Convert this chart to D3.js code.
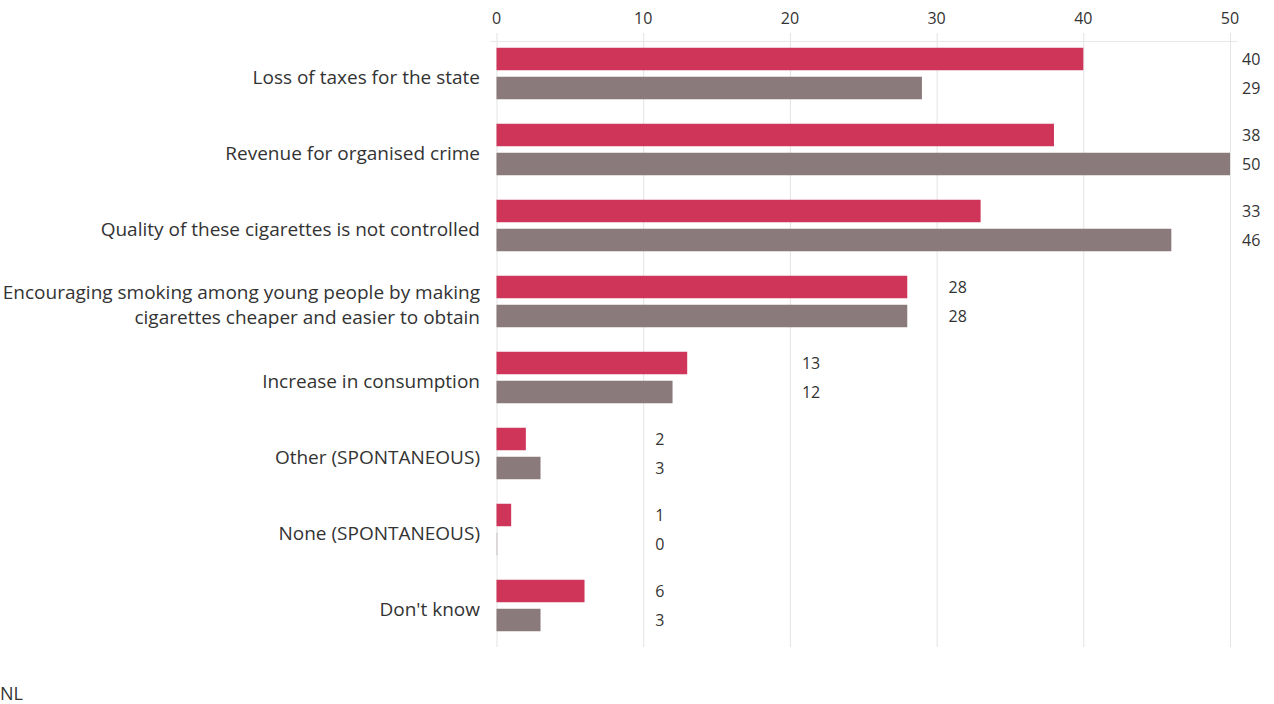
<!DOCTYPE html>
<html>
<head>
<meta charset="utf-8">
<script src="https://cdn.jsdelivr.net/npm/d3@7"></script>
<style>
  body { margin: 0; background: #fff; }
  svg text { font-family: "Open Sans", sans-serif; fill: #333; }
</style>
</head>
<body>
<svg width="1274" height="704"></svg>
<script>
var categories = [
  "Loss of taxes for the state",
  "Revenue for organised crime",
  "Quality of these cigarettes is not controlled",
  "Encouraging smoking among young people by making\ncigarettes cheaper and easier to obtain",
  "Increase in consumption",
  "Other (SPONTANEOUS)",
  "None (SPONTANEOUS)",
  "Don't know"
];
var series1 = [40, 38, 33, 28, 13, 2, 1, 6];
var series2 = [29, 50, 46, 28, 12, 3, 0, 3];
var ticks = [0, 10, 20, 30, 40, 50];
var footer = "NL";

var svg = d3.select("svg");

var x = d3.scaleLinear().domain([0, 50]).range([496.5, 1230]);
var y = d3.scaleBand().domain(d3.range(categories.length)).range([35.5, 643.5]);
var barH = 22.5, gap = 6.5;

// gridlines
svg.append("g").selectAll("line")
  .data(ticks)
  .enter().append("line")
    .attr("x1", function(d) { return x(d) + 0.5; })
    .attr("x2", function(d) { return x(d) + 0.5; })
    .attr("y1", 33)
    .attr("y2", 647)
    .attr("stroke", "#e3e3e3")
    .attr("stroke-width", 1);

svg.append("line")
  .attr("x1", 490).attr("x2", 1238)
  .attr("y1", 41.5).attr("y2", 41.5)
  .attr("stroke", "#e8e8e8");

// tick labels
svg.append("g").selectAll("text")
  .data(ticks)
  .enter().append("text")
    .attr("x", function(d) { return x(d); })
    .attr("y", 24)
    .attr("text-anchor", "middle")
    .style("font-size", "16px")
    .text(function(d) { return d; });

var data = categories.map(function(c, i) {
  return { i: i, cat: c, a: series1[i], b: series2[i] };
});

var g = svg.append("g").selectAll("g")
  .data(data)
  .enter().append("g")
    .attr("transform", function(d) { return "translate(0," + (y(d.i) + y.bandwidth() / 2) + ")"; });

g.append("rect")
  .attr("x", x(0))
  .attr("y", -barH - gap / 2)
  .attr("width", function(d) { return x(d.a) - x(0); })
  .attr("height", barH)
  .attr("fill", "#cf3558");

g.append("rect")
  .attr("x", x(0))
  .attr("y", gap / 2)
  .attr("width", function(d) { return Math.max(1, x(d.b) - x(0)); })
  .attr("height", barH)
  .attr("fill", function(d) { return d.b === 0 ? "#c9c0c0" : "#8a7a7b"; });

// value labels sit just right of the next gridline above the pair
function labelX(d) {
  var t = Math.min(50, Math.floor(Math.max(d.a, d.b) / 10) * 10 + 10);
  return x(t) + 12;
}
g.append("text")
  .attr("x", labelX)
  .attr("y", -barH / 2 - gap / 2)
  .attr("dy", "0.35em")
  .style("font-size", "16px")
  .text(function(d) { return d.a; });
g.append("text")
  .attr("x", labelX)
  .attr("y", barH / 2 + gap / 2)
  .attr("dy", "0.35em")
  .style("font-size", "16px")
  .text(function(d) { return d.b; });

// category labels
g.append("text")
  .attr("x", 480)
  .attr("text-anchor", "end")
  .style("font-size", "19px")
  .each(function(d) {
    var lines = d.cat.split("\n");
    var t = d3.select(this);
    lines.forEach(function(l, k) {
      t.append("tspan")
        .attr("x", 480)
        .attr("y", (k - (lines.length - 1) / 2) * 25 + 3.5)
        .attr("dy", "0.35em")
        .text(l);
    });
  });

svg.append("text")
  .attr("x", 0)
  .attr("y", 700)
  .style("font-size", "18px")
  .text(footer);
</script>
</body>
</html>
